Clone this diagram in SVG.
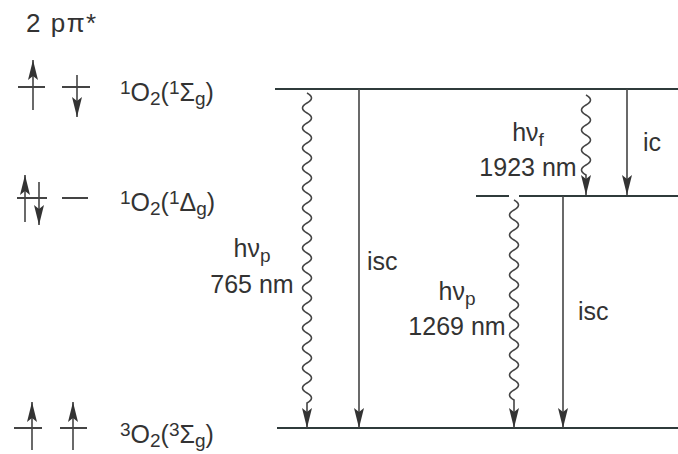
<svg xmlns="http://www.w3.org/2000/svg" width="678" height="454" viewBox="0 0 678 454">
<defs>
<marker id="ah" markerUnits="userSpaceOnUse" markerWidth="20" markerHeight="10" viewBox="0 0 20 10" refX="20" refY="5" orient="auto">
<path d="M0,0 L20,5 L0,10 L4,5 z" fill="#333"/>
</marker>
<style>
text{font-family:"Liberation Sans",Arial,sans-serif;font-size:25px;fill:#333}
.s{font-size:19px}
.lvl{stroke:#2f3b3b;stroke-width:2.2;fill:none}
.ln{stroke:#444;stroke-width:1.6;fill:none}
.arr{stroke:#444;stroke-width:1.6;fill:none;marker-end:url(#ah)}
.el{stroke:#444;stroke-width:1.8;fill:none}
</style>
</defs>
<rect width="678" height="454" fill="#fff"/>

<g id="title"><text x="26" y="32" style="font-size:26px;letter-spacing:1.5px">2 pπ*</text></g>

<g id="orb-sigma">
<path class="el" d="M18,87 H45 M62,87 H90"/>
<path class="arr" d="M33,110 V60"/>
<path class="arr" d="M77,75 V117"/>
<text x="120" y="101"><tspan class="s" dy="-7">1</tspan><tspan dy="7">O</tspan><tspan class="s" dy="4">2</tspan><tspan dy="-4">(</tspan><tspan class="s" dy="-7">1</tspan><tspan dy="7">Σ</tspan><tspan class="s" dy="4">g</tspan><tspan dy="-4">)</tspan></text>
</g>

<g id="orb-delta">
<path class="el" d="M17,198 H47 M62,198 H88"/>
<path class="arr" d="M25,222 V175"/>
<path class="arr" d="M39,182 V225"/>
<text x="120" y="211"><tspan class="s" dy="-7">1</tspan><tspan dy="7">O</tspan><tspan class="s" dy="4">2</tspan><tspan dy="-4">(</tspan><tspan class="s" dy="-7">1</tspan><tspan dy="7">Δ</tspan><tspan class="s" dy="4">g</tspan><tspan dy="-4">)</tspan></text>
</g>

<g id="orb-triplet">
<path class="el" d="M14,428 H42 M60,428 H87"/>
<path class="arr" d="M32,450 V402"/>
<path class="arr" d="M73,450 V402"/>
<text x="120" y="443"><tspan class="s" dy="-7">3</tspan><tspan dy="7">O</tspan><tspan class="s" dy="4">2</tspan><tspan dy="-4">(</tspan><tspan class="s" dy="-7">3</tspan><tspan dy="7">Σ</tspan><tspan class="s" dy="4">g</tspan><tspan dy="-4">)</tspan></text>
</g>

<g id="levels">
<path id="level-sigma" class="lvl" d="M275,89 H678"/>
<path id="level-delta" class="lvl" d="M476,196 H509 M519,196 H678"/>
<path id="level-triplet" class="lvl" d="M277,428 H678"/>
</g>

<g id="connectors">
<path id="hvp765" class="arr" d="M307,93 q9,5 0,10 t0,10 t0,10 t0,10 t0,10 t0,10 t0,10 t0,10 t0,10 t0,10 t0,10 t0,10 t0,10 t0,10 t0,10 t0,10 t0,10 t0,10 t0,10 t0,10 t0,10 t0,10 t0,10 t0,10 t0,10 t0,10 t0,10 t0,10 t0,10 t0,10 t0,10 v25"/>
<path id="isc1" class="arr" d="M359,89 V428"/>
<path id="hvf1923" class="arr" d="M586,95 q9,5 0,10 t0,10 t0,10 t0,10 t0,10 t0,10 t0,10 t0,10 v20"/>
<path id="ic" class="arr" d="M627,89 V195"/>
<path id="hvp1269" class="arr" d="M514,200 q9,5 0,10 t0,10 t0,10 t0,10 t0,10 t0,10 t0,10 t0,10 t0,10 t0,10 t0,10 t0,10 t0,10 t0,10 t0,10 t0,10 t0,10 t0,10 t0,10 t0,10 v28"/>
<path id="isc2" class="arr" d="M563,196 V428"/>
</g>

<g id="labels">
<text x="252" y="257" text-anchor="middle">hν<tspan class="s" dy="5">p</tspan></text>
<text x="252" y="293" text-anchor="middle">765 nm</text>
<text x="367" y="270">isc</text>
<text x="457" y="300" text-anchor="middle">hν<tspan class="s" dy="5">p</tspan></text>
<text x="457" y="335" text-anchor="middle">1269 nm</text>
<text x="578" y="320">isc</text>
<text x="528" y="141" text-anchor="middle">hν<tspan class="s" dy="5">f</tspan></text>
<text x="528" y="176" text-anchor="middle">1923 nm</text>
<text x="643" y="151">ic</text>
</g>
</svg>
